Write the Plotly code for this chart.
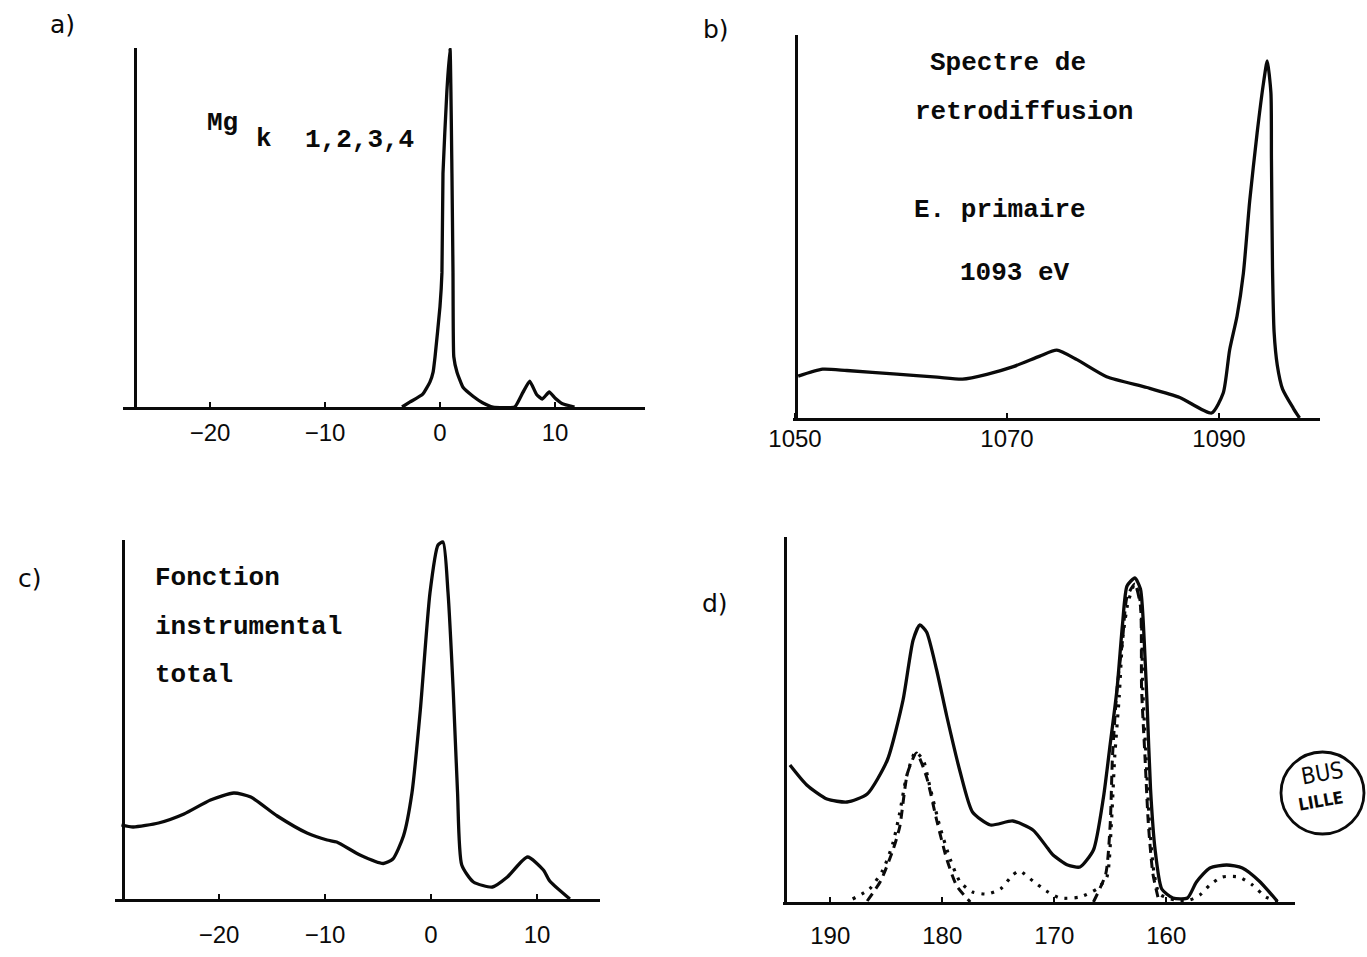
import plotly.graph_objects as go

W, H = 1367, 957

# ---------------- data ----------------
# a) Mg K 1,2,3,4 line
a_x = [-3.3, -2.6, -1.5, -0.87, -0.6, -0.43, 0.0, 0.17, 0.26, 0.6, 0.87, 1.04, 1.13, 1.2, 1.48, 2.0, 2.87, 3.7, 4.6,
       6.5, 7.2, 7.8, 8.4, 8.9, 9.5, 10.0, 10.6, 11.7]
a_v = [0, 1.4, 3.6, 7, 9.7, 14, 28, 37.5, 65, 88, 100, 65, 37.5, 14, 9.7, 5.5, 3, 1.2, 0,
       0, 4, 7.2, 3.5, 2.2, 4.2, 2.5, 1, 0]
a_ticks = [-20, -10, 0, 10]
a_ticktext = ["\u221220", "\u221210", "0", "10"]

# b) backscattering spectrum, primary energy 1093 eV
b_x = [1050.3, 1052.6, 1054.9, 1059.6, 1063.4, 1065.8, 1068.1, 1070.6, 1073.1, 1074.7, 1076.6, 1079.4, 1083.2,
       1086.3, 1089.3, 1090.4, 1091.0, 1091.7, 1092.3, 1092.9, 1093.6, 1094.2, 1094.55, 1094.9, 1094.95, 1095.05,
       1095.2, 1095.5, 1096.0, 1097.0, 1097.6]
b_v = [42, 49, 47.6, 44, 41, 39, 43.8, 51.5, 62, 68, 58.5, 41.4, 30.6, 20.6, 5, 25, 68, 102, 145, 218, 286, 336,
       358, 326, 260, 150, 86, 53, 29, 10, 0]
b_ticks = [1050, 1070, 1090]
b_ticktext = ["1050", "1070", "1090"]

# c) total instrumental function
c_x = [-29.2, -28.1, -25.7, -23.3, -20.8, -18.6, -17.0, -14.5, -11.7, -9.8, -8.9, -6.7, -4.5, -3.6, -2.6, -1.8,
       -1.0, -0.1, 0.66, 1.13, 1.6, 2.1, 2.5, 2.9, 4.0, 5.8, 7.2, 9.1, 10.6, 11.2, 13.1]
c_v = [74, 72, 76, 85, 99, 106, 102, 83, 66, 59, 57, 44, 35.5, 40, 63, 106, 190, 306, 354, 357, 307, 207, 107, 34,
       17, 12, 22, 42, 29, 18, 0]
c_ticks = [-20, -10, 0, 10]
c_ticktext = ["\u221220", "\u221210", "0", "10"]

# d) measured (solid), dotted and dashed curves
d_solid_x = [193.6, 192.1, 190.3, 188.5, 186.7, 184.9, 183.5, 182.6, 182.0, 181.4, 180.5, 179.6, 178.4, 177.3,
             175.7, 173.7, 171.9, 170.6, 170.1, 168.8, 167.7, 166.5, 165.6, 165.0, 164.4, 163.9, 163.5, 162.8,
             162.3, 161.9, 161.7, 161.4, 161.0, 160.4, 159.4, 158.1, 157.3, 156.1, 154.6, 153.2, 151.7, 150.1]
d_solid_v = [137, 117, 103, 100, 108, 142, 202, 262, 277, 270, 232, 186, 130, 90, 77, 81, 72, 54, 47, 37, 35, 52,
             105, 158, 212, 278, 316, 324, 313, 246, 196, 113, 53, 13, 4, 4, 20, 34, 37, 34, 21, 1]
d_dot_x = [188.0, 186.5, 185.3, 184.4, 183.8, 183.2, 182.4, 181.7, 181.1, 180.2, 179.3, 178.4, 177.3, 176.0, 174.8,
           173.7, 173.1, 171.9, 170.7, 169.5, 167.7, 166.2, 165.3, 164.9, 164.6, 164.2, 163.9, 163.4, 162.8, 162.3,
           162.1, 161.8, 161.5, 161.1, 160.6, 159.2, 157.9, 157.0, 156.1, 155.0, 153.5, 152.3, 151.1, 149.9]
d_dot_v = [3, 13, 32, 59, 89, 125, 150, 142, 115, 75, 43, 20, 10, 8, 13, 27, 31, 21, 11, 4, 5, 13, 25, 78, 145,
           205, 262, 300, 318, 300, 215, 145, 80, 30, 8, 2, 2, 7, 17, 25, 25, 17, 5, 0]
d_dash_x = [186.7, 185.5, 184.4, 183.8, 183.1, 182.3, 181.4, 180.5, 179.6, 178.7, 177.5, None,
            166.5, 165.4, 165.0, 164.8, 164.4, 163.9, 163.5, 162.8, 162.3, 162.2, 161.9, 161.6, 161.2, 160.7]
d_dash_v = [1, 21, 52, 75, 129, 149, 125, 82, 43, 16, 0, None,
            0, 28, 78, 145, 212, 262, 305, 318, 296, 213, 146, 79, 29, 3]
d_ticks = [190, 180, 170, 160]
d_ticktext = ["190", "180", "170", "160"]


# ---------------- helpers ----------------
def fx(p):
    return p / W


def fy(p):
    return 1 - p / H


BLACK = "#0a0a0a"
TICKFONT = dict(family="Liberation Sans", size=24, color=BLACK)
MONO = dict(family="Liberation Mono", size=26, color=BLACK, weight="bold")

fig = go.Figure()

panels = [
    # suffix, x-domain px, y-domain px (bottom, top), y-axis line px, x range, y range, ticks, labels, standoff
    ("", (123, 645), (407, 48), 135, [-27.57, 17.83], [0, 100], a_ticks, a_ticktext, 2),
    ("2", (793, 1320), (418, 35), 796, [1049.81, 1099.53], [0, 384], b_ticks, b_ticktext, -3),
    ("3", (115, 600), (899, 540), 123, [-29.81, 15.94], [0, 359], c_ticks, c_ticktext, 12),
    ("4", (783, 1295), (902, 537), 785, [194.22, 148.50], [0, 365], d_ticks, d_ticktext, 10),
]

layout = {}
for name, xd, yd, yl, xr, yr, tv, tt, so in panels:
    layout["xaxis" + name] = dict(
        domain=[fx(xd[0]), fx(xd[1])], range=xr, anchor="y" + name, automargin=False,
        showline=True, linecolor=BLACK, linewidth=2.5, showgrid=False, zeroline=False,
        tickmode="array", tickvals=tv, ticktext=tt, ticks="inside", ticklen=5, tickwidth=2,
        tickcolor=BLACK, tickfont=TICKFONT, ticklabelstandoff=so,
    )
    layout["yaxis" + name] = dict(
        domain=[fy(yd[0]), fy(yd[1])], range=yr, anchor="free", position=fx(yl), automargin=False,
        showline=True, linecolor=BLACK, linewidth=2.5, showgrid=False, zeroline=False,
        showticklabels=False, ticks="",
    )

line_solid = dict(color=BLACK, width=3.3, shape="spline", smoothing=0.6)

fig.add_trace(go.Scatter(x=a_x, y=a_v, mode="lines", line=dict(color=BLACK, width=3.3, shape="spline", smoothing=0.4),
                         xaxis="x", yaxis="y", showlegend=False))
fig.add_trace(go.Scatter(x=b_x, y=b_v, mode="lines", line=line_solid, xaxis="x2", yaxis="y2", showlegend=False))
fig.add_trace(go.Scatter(x=c_x, y=c_v, mode="lines", line=line_solid, xaxis="x3", yaxis="y3", showlegend=False))
fig.add_trace(go.Scatter(x=d_solid_x, y=d_solid_v, mode="lines", line=line_solid, xaxis="x4", yaxis="y4",
                         showlegend=False))
fig.add_trace(go.Scatter(x=d_dot_x, y=d_dot_v, mode="lines",
                         line=dict(color=BLACK, width=3.2, dash="3px,7px", shape="spline", smoothing=0.6),
                         xaxis="x4", yaxis="y4", showlegend=False))
fig.add_trace(go.Scatter(x=d_dash_x, y=d_dash_v, mode="lines", connectgaps=False,
                         line=dict(color=BLACK, width=3, dash="9px,6px", shape="spline", smoothing=0.6),
                         xaxis="x4", yaxis="y4", showlegend=False))

annotations = []


def txt(text, x, y, font, xanchor="center", angle=0):
    annotations.append(dict(text=text, x=fx(x), y=fy(y), xref="paper", yref="paper", showarrow=False,
                            xanchor=xanchor, yanchor="middle", font=font, textangle=angle))


LABEL = dict(family="DejaVu Sans", size=25, color=BLACK)
txt("a)", 62, 25, LABEL)
txt("b)", 716, 30, LABEL)
txt("c)", 30, 578, LABEL)
txt("d)", 715, 603, LABEL)

txt("Mg", 222, 123, MONO)
txt("k", 264, 139, MONO)
txt("1,2,3,4", 359, 140, MONO)

txt("Spectre de", 1008, 63, MONO)
txt("retrodiffusion", 1024, 112, MONO)
txt("E. primaire", 1000, 210, MONO)
txt("1093 eV", 1015, 273, MONO)

txt("Fonction", 153, 578, MONO, xanchor="left")
txt("instrumental", 153, 627, MONO, xanchor="left")
txt("total", 153, 675, MONO, xanchor="left")

# library stamp
txt("BUS", 1322, 773, dict(family="DejaVu Sans Condensed, DejaVu Sans", size=23, color=BLACK), angle=-10)
txt("LILLE", 1320, 801, dict(family="DejaVu Sans Condensed, DejaVu Sans", size=17, color=BLACK, weight="bold"),
    angle=-10)

shapes = [dict(type="circle", xref="paper", yref="paper", x0=fx(1281), x1=fx(1364), y0=fy(834), y1=fy(752),
               line=dict(color=BLACK, width=2.8))]

fig.update_layout(
    width=W, height=H, margin=dict(l=0, r=0, t=0, b=0, pad=0, autoexpand=False),
    paper_bgcolor="white", plot_bgcolor="white",
    annotations=annotations, shapes=shapes, showlegend=False,
    **layout,
)

fig.write_html("out.html")
